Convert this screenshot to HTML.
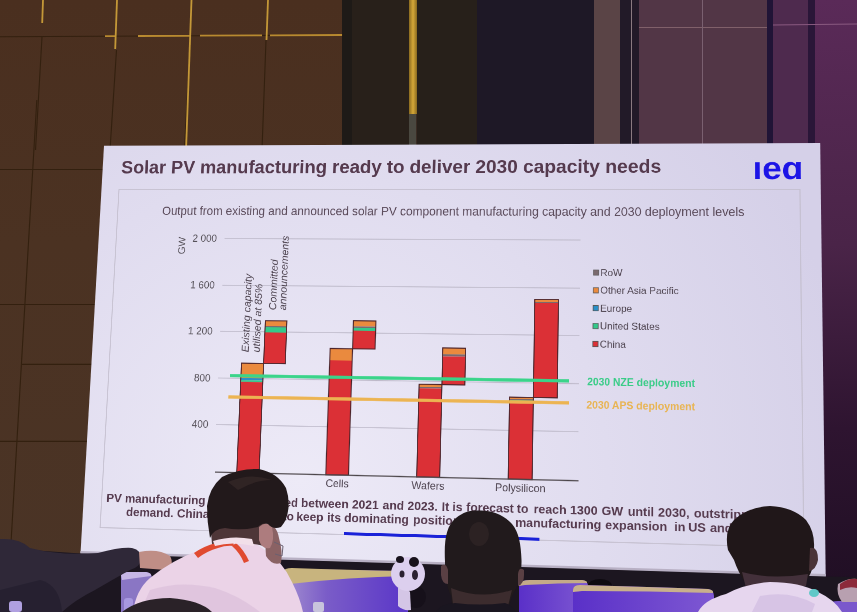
<!DOCTYPE html>
<html><head><meta charset="utf-8"><title>Solar PV manufacturing</title>
<style>
html,body{margin:0;padding:0;}
body{width:857px;height:612px;overflow:hidden;position:relative;background:#3a2c24;font-family:"Liberation Sans",Arial,sans-serif;}
#slide{position:absolute;left:0;top:0;width:1280px;height:720px;transform-origin:0 0;transform:matrix3d(0.52299072,-0.00840646,0,-0.0000445508,-0.03694283,0.53679597,0,-0.0000534651,0,0,1,0,104.0000,145.7000,0,1);}
</style></head><body>
<div style="position:absolute;left:0;top:0;width:343px;height:612px;background:linear-gradient(180deg,#4a2f1f 0%,#4b3222 40%,#4a3426 100%)"></div><div style="position:absolute;left:342px;top:0;width:10px;height:200px;background:#1e1a17"></div><div style="position:absolute;left:352px;top:0;width:57px;height:200px;background:#28201a"></div><div style="position:absolute;left:409px;top:0;width:8px;height:114px;background:linear-gradient(90deg,#8a6a20,#d6a838,#8a6a20)"></div><div style="position:absolute;left:409px;top:114px;width:7px;height:40px;background:#4a4840"></div><div style="position:absolute;left:417px;top:0;width:60px;height:200px;background:#27201a"></div><div style="position:absolute;left:477px;top:0;width:117px;height:200px;background:#1e1826"></div><div style="position:absolute;left:594px;top:0;width:26px;height:200px;background:#5a4446"></div><div style="position:absolute;left:620px;top:0;width:19px;height:200px;background:#221a28"></div><div style="position:absolute;left:631px;top:0;width:1px;height:200px;background:#8a7a80"></div><div style="position:absolute;left:639px;top:0;width:128px;height:200px;background:#523646"></div><div style="position:absolute;left:639px;top:27px;width:128px;height:1px;background:#80606a"></div><div style="position:absolute;left:702px;top:0;width:1px;height:200px;background:#7a6070"></div><div style="position:absolute;left:767px;top:0;width:6px;height:200px;background:#201436"></div><div style="position:absolute;left:773px;top:0;width:35px;height:612px;background:#4e2a4e"></div><div style="position:absolute;left:808px;top:0;width:7px;height:612px;background:#2a1638"></div><div style="position:absolute;left:815px;top:0;width:42px;height:612px;background:linear-gradient(180deg,#5a2a58 0%,#4a2448 40%,#2e1430 70%,#1e0e22 100%)"></div>
<svg style="position:absolute;left:0;top:0" width="857" height="612"><line x1="42" y1="37" x2="35.5" y2="150" stroke="#33200f" stroke-width="1.1"/><line x1="116.5" y1="50" x2="110" y2="150" stroke="#33200f" stroke-width="1.1"/><line x1="190" y1="45" x2="184.5" y2="150" stroke="#33200f" stroke-width="1.1"/><line x1="266" y1="40" x2="262" y2="150" stroke="#33200f" stroke-width="1.1"/><line x1="36.8" y1="100" x2="10" y2="560" stroke="#33200f" stroke-width="1.1"/><line x1="0" y1="36.7" x2="343" y2="35" stroke="#33200f" stroke-width="1.1"/><line x1="105" y1="36.2" x2="116" y2="36.1" stroke="#b88a30" stroke-width="1.8"/><line x1="138" y1="36.0" x2="190" y2="35.8" stroke="#b88a30" stroke-width="1.8"/><line x1="200" y1="35.7" x2="262" y2="35.4" stroke="#b88a30" stroke-width="1.8"/><line x1="270" y1="35.4" x2="342" y2="35.0" stroke="#b88a30" stroke-width="1.8"/><line x1="43" y1="0" x2="42.2" y2="23" stroke="#c49838" stroke-width="1.8"/><line x1="117" y1="0" x2="115.2" y2="49" stroke="#c49838" stroke-width="1.8"/><line x1="191.5" y1="0" x2="186.0" y2="150" stroke="#c49838" stroke-width="1.8"/><line x1="268" y1="0" x2="266.5" y2="40" stroke="#c49838" stroke-width="1.8"/><line x1="0" y1="169.5" x2="104" y2="169.5" stroke="#33200f" stroke-width="1.1"/><line x1="0" y1="304.5" x2="100" y2="304.5" stroke="#33200f" stroke-width="1.1"/><line x1="22" y1="364.4" x2="96" y2="364.4" stroke="#33200f" stroke-width="1.1"/><line x1="0" y1="441.4" x2="92" y2="441.4" stroke="#33200f" stroke-width="1.1"/><line x1="773" y1="25" x2="857" y2="24" stroke="#8a5a80" stroke-width="1"/><defs><radialGradient id="pg" gradientUnits="userSpaceOnUse" cx="300" cy="480" r="560"><stop offset="0" stop-color="#edeaf7"/><stop offset="0.55" stop-color="#e0dcef"/><stop offset="1" stop-color="#d5d0e8"/></radialGradient></defs><polygon points="104,145.7 820.2,143.1 825.7,576.5 80.5,553.5" fill="url(#pg)"/></svg>
<div id="slide"><svg width="1280" height="720" viewBox="0 0 1280 720" font-family="Liberation Sans, Arial, sans-serif"><defs><radialGradient id="sg" cx="0.45" cy="0.75" r="0.85"><stop offset="0" stop-color="#ebe7f4"/><stop offset="0.6" stop-color="#e0dcec"/><stop offset="1" stop-color="#d6d1e6"/></radialGradient></defs><text x="35" y="51.5" font-size="33.6" font-weight="bold" fill="#553a4e" textLength="974" lengthAdjust="spacingAndGlyphs">Solar PV manufacturing ready to deliver 2030 capacity needs</text><text id="logo" x="1165" y="61.6" font-size="56" font-weight="bold" fill="#1c14e6" textLength="86" lengthAdjust="spacingAndGlyphs">ıeɑ</text><rect x="33" y="80" width="1212" height="595" fill="none" stroke="#c2bdcc" stroke-width="1.6"/><text x="116" y="125.6" font-size="21.3" fill="#5a4a5a" textLength="1035" lengthAdjust="spacingAndGlyphs">Output from existing and announced solar PV component manufacturing capacity and 2030 deployment levels</text><line x1="234" y1="168" x2="870" y2="168" stroke="#bdb8c8" stroke-width="1.6"/><text x="220" y="174.5" font-size="18" fill="#555058" text-anchor="end">2 000</text><line x1="234" y1="251" x2="870" y2="251" stroke="#bdb8c8" stroke-width="1.6"/><text x="220" y="257.5" font-size="18" fill="#555058" text-anchor="end">1 600</text><line x1="234" y1="332" x2="870" y2="332" stroke="#bdb8c8" stroke-width="1.6"/><text x="220" y="338.5" font-size="18" fill="#555058" text-anchor="end">1 200</text><line x1="234" y1="413.5" x2="870" y2="413.5" stroke="#bdb8c8" stroke-width="1.6"/><text x="220" y="420.0" font-size="18" fill="#555058" text-anchor="end">800</text><line x1="234" y1="494" x2="870" y2="494" stroke="#bdb8c8" stroke-width="1.6"/><text x="220" y="500.5" font-size="18" fill="#555058" text-anchor="end">400</text><text transform="translate(162,181) rotate(-90)" font-size="18" fill="#555058" text-anchor="middle">GW</text><rect x="275" y="387" width="40" height="26" fill="#ea8a3e"/><rect x="275" y="413" width="40" height="3.5" fill="#2a8fc8"/><rect x="275" y="416.5" width="40" height="3.0" fill="#34c98a"/><rect x="275" y="419.5" width="40" height="156.0" fill="#db3036"/><rect x="275" y="387" width="40" height="188.5" fill="none" stroke="#4a2228" stroke-width="1.8"/><rect x="315" y="312.5" width="39" height="9.5" fill="#ea8a3e"/><rect x="315" y="322" width="39" height="2" fill="#7a6a6e"/><rect x="315" y="324" width="39" height="9" fill="#34c98a"/><rect x="315" y="333" width="39" height="54" fill="#db3036"/><rect x="315" y="312.5" width="39" height="74.5" fill="none" stroke="#4a2228" stroke-width="1.8"/><rect x="433.5" y="359.5" width="40" height="20.5" fill="#ea8a3e"/><rect x="433.5" y="380" width="40" height="195.5" fill="#db3036"/><rect x="433.5" y="359.5" width="40" height="216.0" fill="none" stroke="#4a2228" stroke-width="1.8"/><rect x="473.5" y="311" width="40" height="9.600000000000023" fill="#ea8a3e"/><rect x="473.5" y="320.6" width="40" height="2.3999999999999773" fill="#7a6a6e"/><rect x="473.5" y="323" width="40" height="5" fill="#34c98a"/><rect x="473.5" y="328" width="40" height="31.5" fill="#db3036"/><rect x="473.5" y="311" width="40" height="48.5" fill="none" stroke="#4a2228" stroke-width="1.8"/><rect x="593" y="418.7" width="40" height="4.300000000000011" fill="#ea8a3e"/><rect x="593" y="423" width="40" height="2.5" fill="#7a6a6e"/><rect x="593" y="425.5" width="40" height="150.0" fill="#db3036"/><rect x="593" y="418.7" width="40" height="156.8" fill="none" stroke="#4a2228" stroke-width="1.8"/><rect x="633" y="356" width="40" height="10.699999999999989" fill="#ea8a3e"/><rect x="633" y="366.7" width="40" height="3.8000000000000114" fill="#7a6a6e"/><rect x="633" y="370.5" width="40" height="48.19999999999999" fill="#db3036"/><rect x="633" y="356" width="40" height="62.69999999999999" fill="none" stroke="#4a2228" stroke-width="1.8"/><rect x="751" y="438" width="41" height="3" fill="#ea8a3e"/><rect x="751" y="441" width="41" height="2" fill="#7a6a6e"/><rect x="751" y="443" width="41" height="2" fill="#34c98a"/><rect x="751" y="445" width="41" height="130.5" fill="#db3036"/><rect x="751" y="438" width="41" height="137.5" fill="none" stroke="#4a2228" stroke-width="1.8"/><rect x="792" y="271" width="41" height="4" fill="#ea8a3e"/><rect x="792" y="275" width="41" height="2" fill="#7a6a6e"/><rect x="792" y="277" width="41" height="161" fill="#db3036"/><rect x="792" y="271" width="41" height="167" fill="none" stroke="#4a2228" stroke-width="1.8"/><line x1="236" y1="575.5" x2="871" y2="575.5" stroke="#4a4448" stroke-width="2"/><line x1="255" y1="409" x2="853" y2="409" stroke="#3ad48a" stroke-width="5.5"/><line x1="254" y1="446" x2="853" y2="446" stroke="#ecb452" stroke-width="5.5"/><text x="884" y="416.5" font-size="17.6" font-weight="bold" fill="#3acc88" textLength="183" lengthAdjust="spacingAndGlyphs">2030 NZE deployment</text><text x="883" y="455" font-size="17.6" font-weight="bold" fill="#e8b452" textLength="184" lengthAdjust="spacingAndGlyphs">2030 APS deployment</text><rect x="893" y="219.5" width="9" height="9" fill="#7a6a6e" stroke="#555" stroke-width="1.2"/><text x="905" y="230.0" font-size="17" fill="#4e4450">RoW</text><rect x="893" y="250.0" width="9" height="9" fill="#ea8a3e" stroke="#555" stroke-width="1.2"/><text x="905" y="260.5" font-size="17" fill="#4e4450">Other Asia Pacific</text><rect x="893" y="280.5" width="9" height="9" fill="#2a8fc8" stroke="#555" stroke-width="1.2"/><text x="905" y="291.0" font-size="17" fill="#4e4450">Europe</text><rect x="893" y="311.0" width="9" height="9" fill="#34c98a" stroke="#555" stroke-width="1.2"/><text x="905" y="321.5" font-size="17" fill="#4e4450">United States</text><rect x="893" y="341.5" width="9" height="9" fill="#db3036" stroke="#555" stroke-width="1.2"/><text x="905" y="352.0" font-size="17" fill="#4e4450">China</text><text x="295" y="596.5" font-size="18.3" fill="#4e4450" text-anchor="middle">Modules</text><text x="454" y="596.5" font-size="18.3" fill="#4e4450" text-anchor="middle">Cells</text><text x="613" y="596.5" font-size="18.3" fill="#4e4450" text-anchor="middle">Wafers</text><text x="772" y="596.5" font-size="18.3" fill="#4e4450" text-anchor="middle">Polysilicon</text><text transform="translate(287,368) rotate(-90)" font-size="18.5" font-style="italic" fill="#4e4450">Existing capacity</text><text transform="translate(307,368) rotate(-90)" font-size="18.5" font-style="italic" fill="#4e4450">utilised at 85%</text><text transform="translate(333.5,294) rotate(-90)" font-size="18.5" font-style="italic" fill="#4e4450">Committed</text><text transform="translate(351.5,294) rotate(-90)" font-size="18.5" font-style="italic" fill="#4e4450">announcements</text><text x="41.5" y="630.6" font-size="21" font-weight="bold" fill="#553a4e">PV</text><text x="75.5" y="630.6" font-size="21" font-weight="bold" fill="#553a4e">manufacturing</text><text x="227" y="630.6" font-size="21" font-weight="bold" fill="#553a4e" textLength="158.8" lengthAdjust="spacingAndGlyphs">capacity doubled</text><text x="391.6" y="630.6" font-size="21" font-weight="bold" fill="#553a4e">between</text><text x="481.4" y="630.6" font-size="21" font-weight="bold" fill="#553a4e">2021</text><text x="535.1" y="630.6" font-size="21" font-weight="bold" fill="#553a4e">and</text><text x="578.3" y="630.6" font-size="21" font-weight="bold" fill="#553a4e">2023.</text><text x="637.8" y="630.6" font-size="21" font-weight="bold" fill="#553a4e">It</text><text x="656.1" y="630.6" font-size="21" font-weight="bold" fill="#553a4e">is</text><text x="680" y="630.6" font-size="21" font-weight="bold" fill="#553a4e">forecast</text><text x="766.8" y="630.6" font-size="21" font-weight="bold" fill="#553a4e">to</text><text x="795.4" y="630.6" font-size="21" font-weight="bold" fill="#553a4e">reach</text><text x="857.2" y="630.6" font-size="21" font-weight="bold" fill="#553a4e">1300</text><text x="910.5" y="630.6" font-size="21" font-weight="bold" fill="#553a4e">GW</text><text x="954.4" y="630.6" font-size="21" font-weight="bold" fill="#553a4e">until</text><text x="1005.1" y="630.6" font-size="21" font-weight="bold" fill="#553a4e">2030,</text><text x="1064.8" y="630.6" font-size="21" font-weight="bold" fill="#553a4e">outstripping</text><text x="78.7" y="654.3" font-size="21" font-weight="bold" fill="#553a4e">demand.</text><text x="171" y="654.3" font-size="21" font-weight="bold" fill="#553a4e">China</text><text x="236" y="654.3" font-size="21" font-weight="bold" fill="#553a4e" textLength="131" lengthAdjust="spacingAndGlyphs">is expected t</text><text x="367.1" y="654.3" font-size="21" font-weight="bold" fill="#553a4e">o</text><text x="384.4" y="654.3" font-size="21" font-weight="bold" fill="#553a4e">keep</text><text x="438.5" y="654.3" font-size="21" font-weight="bold" fill="#553a4e">its</text><text x="468.4" y="654.3" font-size="21" font-weight="bold" fill="#553a4e">dominating</text><text x="588.7" y="654.3" font-size="21" font-weight="bold" fill="#553a4e">position despite</text><text x="764.4" y="654.3" font-size="21" font-weight="bold" fill="#553a4e">manufacturing</text><text x="916.8" y="654.3" font-size="21" font-weight="bold" fill="#553a4e">expansion</text><text x="1032.3" y="654.3" font-size="21" font-weight="bold" fill="#553a4e">in</text><text x="1055.4" y="654.3" font-size="21" font-weight="bold" fill="#553a4e">US</text><text x="1091.4" y="654.3" font-size="21" font-weight="bold" fill="#553a4e">and India</text><line x1="469" y1="673.5" x2="806" y2="673.5" stroke="#1a22d8" stroke-width="5"/></svg></div>
<svg style="position:absolute;left:0;top:0;filter:blur(0.6px)" width="857" height="612"><defs><linearGradient id="ch1" x1="0" x2="1" y1="0" y2="0"><stop offset="0" stop-color="#a490d0"/><stop offset="0.35" stop-color="#7a5cc8"/><stop offset="1" stop-color="#5a36c8"/></linearGradient><linearGradient id="ch2" x1="0" x2="1" y1="0" y2="0"><stop offset="0" stop-color="#5a30c8"/><stop offset="1" stop-color="#7e58d2"/></linearGradient></defs><path d="M80.5 551 L825.7 574 L825.7 577 L80.5 554 Z" fill="#b8b0c4"/><path d="M0 548 L80.5 553.5 L825.7 576.5 L857 577 L857 612 L0 612 Z" fill="#1c1620"/><ellipse cx="600" cy="586" rx="12" ry="7" fill="#0e0a10"/><path d="M283 572 Q284 569 290 569 Q350 570 402 571 Q408 572 408 578 L408 612 L283 612 Z" fill="url(#ch1)"/><path d="M283 572 Q284 568 292 568 Q350 570 402 571 Q407 572 406 576 Q350 577 290 584 Q283 585 283 580 Z" fill="#c8b47e"/><path d="M519 584 Q521 580 530 580 L582 580 Q588 581 588 586 L588 612 L519 612 Z" fill="url(#ch2)"/><path d="M519 584 Q521 580 530 580 L582 580 Q588 581 587 583 Q560 583 525 585 L519 586 Z" fill="#c4aa88"/><path d="M573 590 Q573 585 580 585 Q650 587 708 589 Q714 590 714 596 L714 612 L573 612 Z" fill="url(#ch2)"/><path d="M573 590 Q573 585 580 585 Q650 587 708 589 Q714 590 713 593 Q650 591 582 591 Q573 592 573 592 Z" fill="#c8b08c"/><path d="M830 604 Q831 601 838 601 L857 601 L857 612 L830 612 Z" fill="#7a58cc"/><path d="M121 575 Q122 572 128 572 L146 572 Q152 573 152 578 L152 612 L121 612 Z" fill="#8a76c4"/><path d="M121 575 Q122 572 128 572 L146 572 Q152 573 151 576 Q136 578 122 580 Z" fill="#c6b6e6"/><ellipse cx="416" cy="597" rx="10" ry="11" fill="#16101a"/><path d="M398 588 Q406 586 410 592 L411 610 Q403 611 398 606 Z" fill="#d4c6e6"/><ellipse cx="408" cy="574" rx="17" ry="17" fill="#dccfee"/><ellipse cx="400" cy="559.5" rx="4" ry="3.5" fill="#18121c"/><ellipse cx="414" cy="562" rx="5" ry="5" fill="#18121c"/><ellipse cx="402" cy="574" rx="2.5" ry="3.5" fill="#2a2030"/><ellipse cx="415" cy="575" rx="3" ry="5" fill="#2a2030"/><path d="M0 539 Q20 538 30 548 Q60 556 98 553 Q120 547 132 548 Q142 550 141 560 Q140 567 130 570 Q112 580 95 590 Q75 600 62 612 L0 612 Z" fill="#2f2838"/><path d="M40 580 Q60 585 62 612 L0 612 L0 590 Z" fill="#262030"/><path d="M139 552 Q158 548 170 556 Q175 565 166 570 L140 568 Z" fill="#bf8e86"/><rect x="9" y="601" width="13" height="11" rx="3" fill="#b0a0e0"/><rect x="124" y="598" width="9" height="14" rx="3" fill="#a898e0"/><rect x="313" y="602" width="11" height="10" rx="2" fill="#c8c4dc"/><path d="M133 612 Q136 590 150 578 Q172 560 200 550 Q215 543 232 541 Q252 540 262 548 Q282 560 292 582 Q300 598 303 612 Z" fill="#ebd3e7"/><path d="M150 590 Q180 580 215 588 Q240 596 260 612 L140 612 Z" fill="#d8bcd8" opacity="0.6"/><path d="M210 520 L266 520 L264 546 Q240 540 212 544 Z" fill="#4e3638"/><path d="M264 524 Q276 522 279 538 Q283 552 281 563 Q272 566 266 556 Z" fill="#8a6264"/><path d="M259 527 Q266 520 272 527 Q275 540 270 548 Q262 550 259 540 Z" fill="#ad7c7e"/><path d="M274 542 L283 546 L282 556 L275 554" fill="none" stroke="#6a6070" stroke-width="1"/><path d="M194 553 Q204 546 216 543 Q226 540 233 541 L234 546 Q226 545 218 548 Q207 551 198 558 Z" fill="#e04a30"/><path d="M236 543 Q244 550 249 561 L244 563 Q240 553 232 546 Z" fill="#e04a30"/><path d="M213 541 Q232 535 252 539 L254 546 Q232 541 215 546 Z" fill="#f2dfe9"/><path d="M210 538 Q207 522 207 506 Q209 488 222 477 Q240 468 259 469 Q278 473 286 488 Q290 500 288 511 Q287 520 281 527 Q273 530 268 524 Q262 522 258 527 Q240 531 225 528 Q213 529 210 538 Z" fill="#22191b"/><path d="M228 482 Q250 472 272 480 Q255 480 238 490 Z" fill="#3a2c2c" opacity="0.6"/><path d="M445 562 C444 540 446 526 456 518 C464 511 472 510 481 510.5 C492 511 503 514 512 524 C519 532 521 545 521.5 560 C522 575 517 588 512 596 L507 612 L453 612 L451 596 C447 588 445 575 445 562 Z" fill="#211a1c"/><path d="M441 566 Q446 562 448 570 L448 584 Q442 584 441 575 Z" fill="#5a4044"/><path d="M524 570 Q519 566 518 574 L518 586 Q524 584 524 575 Z" fill="#5a4044"/><path d="M451 588 Q480 600 512 590 L508 606 Q480 610 453 604 Z" fill="#3c2c2e"/><path d="M436 612 Q440 604 455 603 Q480 606 505 603 Q512 605 516 612 Z" fill="#1a1620"/><ellipse cx="479" cy="534" rx="10" ry="12" fill="#3a2c2c" opacity="0.45"/><path d="M728 550 Q724 530 734 520 Q748 507 770 506 Q793 507 806 520 Q815 532 814 548 Q816 565 808 578 Q800 585 780 586 Q760 586 746 584 Q738 572 734 560 Z" fill="#201719"/><path d="M810 548 Q818 546 818 560 Q816 570 809 571 Z" fill="#4a3438"/><path d="M742 572 Q770 580 808 574 L806 586 L746 588 Z" fill="#43303a"/><path d="M698 612 Q704 600 726 594 Q745 584 770 582 Q800 582 818 592 Q835 600 842 612 Z" fill="#e6d6ee"/><path d="M760 596 Q790 590 815 604 L812 612 L752 612 Z" fill="#cdb8e0" opacity="0.6"/><ellipse cx="814" cy="593" rx="5" ry="4" fill="#60c8c8"/><path d="M122 612 Q140 598 170 598 Q200 600 212 612 Z" fill="#2a2228"/><path d="M838 584 Q848 578 857 579 L857 602 L842 602 Q836 594 838 584 Z" fill="#b8a0b0"/><path d="M840 584 Q848 578 857 579 L857 588 Q848 586 840 590 Z" fill="#8c2a3a"/></svg>
</body></html>
